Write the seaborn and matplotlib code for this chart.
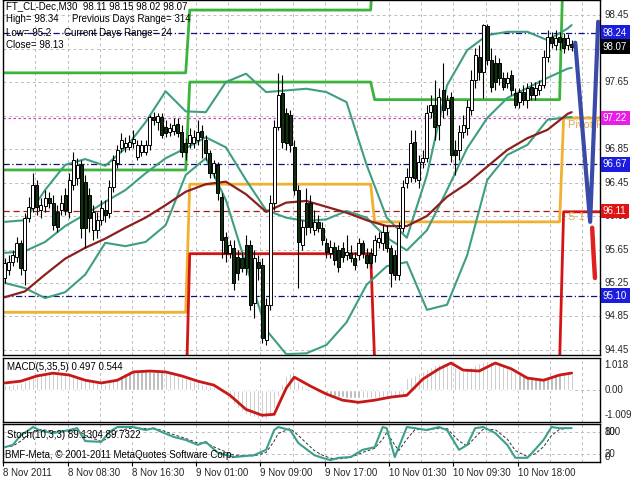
import numpy as np
import matplotlib
matplotlib.use("Agg")
import matplotlib.pyplot as plt
import seaborn as sns
from matplotlib.transforms import blended_transform_factory

# ---------------- data ----------------
# M30 candles, oldest first (prices)
c_open = [95.31, 95.41, 95.50, 95.56, 95.73, 95.41, 96.03, 96.15, 96.42, 96.12,
          96.17, 96.27, 96.21, 96.10, 96.12, 96.30, 96.10, 96.42, 96.50, 96.66,
          96.46, 96.30, 95.88, 95.88, 96.00, 96.12, 96.09, 96.40, 96.68, 96.86,
          96.87, 96.87, 96.92, 96.75, 96.81, 96.81, 96.90, 97.23, 97.17, 97.23,
          97.11, 97.05, 97.07, 97.15, 97.05, 96.92, 96.92, 96.92, 96.96, 97.07,
          96.96, 96.80, 96.56, 96.66, 96.28, 95.80, 95.61, 95.67, 95.56, 95.55,
          95.70, 95.70, 95.01, 95.50, 95.47, 94.57, 94.99, 96.21, 97.11, 97.52,
          97.28, 97.26, 96.87, 96.36, 95.70, 96.21, 96.21, 95.88, 95.98, 95.91,
          95.73, 95.61, 95.68, 95.64, 95.67, 95.58, 95.61, 95.55, 95.58, 95.73,
          95.58, 95.61, 95.58, 95.74, 95.73, 95.86, 95.67, 95.58, 95.35, 95.91,
          96.44, 96.52, 96.93, 96.48, 96.69, 96.74, 97.29, 97.38, 97.14, 97.55,
          97.34, 97.47, 96.84, 96.84, 97.05, 97.10, 97.32, 97.67, 97.95, 97.77,
          98.32, 97.91, 97.88, 97.88, 97.70, 97.64, 97.73, 97.52, 97.41, 97.53,
          97.44, 97.59, 97.49, 97.55, 97.61, 97.95, 98.19, 98.09, 98.19, 98.18,
          98.09, 98.11]
c_high = [95.55, 95.58, 95.64, 95.80, 95.76, 96.09, 96.28, 96.56, 96.48, 96.27,
          96.36, 96.34, 96.30, 96.18, 96.30, 96.38, 96.56, 96.81, 96.74, 96.72,
          96.54, 96.38, 96.18, 96.10, 96.24, 96.24, 96.48, 96.78, 96.90, 97.04,
          96.99, 97.02, 97.08, 96.96, 96.96, 96.96, 97.26, 97.29, 97.28, 97.28,
          97.20, 97.16, 97.22, 97.22, 97.14, 96.98, 97.10, 97.08, 97.20, 97.14,
          97.02, 96.84, 96.72, 96.69, 96.32, 95.86, 95.76, 95.76, 95.64, 95.62,
          95.82, 95.76, 95.64, 95.58, 95.55, 95.07, 96.30, 97.20, 97.76, 97.74,
          97.34, 97.32, 96.96, 96.42, 96.00, 96.38, 96.30, 96.12, 96.06, 95.98,
          95.79, 95.76, 95.74, 95.70, 95.74, 95.82, 95.70, 95.62, 95.79, 95.76,
          95.67, 95.67, 95.82, 95.86, 95.94, 95.94, 95.70, 95.64, 95.98, 96.48,
          96.62, 97.08, 97.08, 96.78, 96.84, 97.38, 97.49, 97.67, 97.58, 97.88,
          97.49, 97.53, 96.96, 97.14, 97.26, 97.44, 97.79, 98.06, 98.09, 98.34,
          98.34, 98.06, 97.97, 97.94, 97.77, 97.77, 97.79, 97.58, 97.58, 97.61,
          97.64, 97.65, 97.65, 97.67, 98.03, 98.27, 98.25, 98.27, 98.25, 98.24,
          98.22, 98.15]
c_low = [95.25, 95.35, 95.45, 95.50, 95.35, 95.23, 95.98, 96.10, 96.06, 96.03,
         96.10, 96.15, 95.88, 95.86, 96.06, 96.06, 96.03, 96.36, 96.42, 95.79,
         95.67, 95.86, 95.76, 95.79, 95.94, 95.98, 96.03, 96.34, 96.62, 96.81,
         96.81, 96.84, 96.86, 96.72, 96.77, 96.78, 96.84, 97.14, 97.08, 96.98,
         96.99, 97.01, 97.02, 96.99, 96.75, 96.72, 96.86, 96.86, 96.90, 96.74,
         96.72, 96.50, 96.50, 96.24, 95.55, 95.50, 95.55, 95.17, 95.29, 95.38,
         95.35, 94.93, 94.83, 95.29, 94.53, 94.51, 94.93, 96.12, 97.08, 96.86,
         96.84, 96.81, 96.30, 95.19, 95.64, 95.82, 95.85, 95.82, 95.86, 95.70,
         95.55, 95.55, 95.47, 95.38, 95.50, 95.52, 95.50, 95.41, 95.52, 95.55,
         95.43, 95.43, 95.50, 95.67, 95.64, 95.62, 95.20, 95.29, 95.29, 95.86,
         96.38, 96.46, 96.46, 96.38, 96.62, 96.69, 97.22, 96.96, 96.96, 97.22,
         97.26, 96.69, 96.54, 96.72, 96.98, 97.02, 97.26, 97.58, 97.67, 97.46,
         97.85, 97.53, 97.55, 97.61, 97.55, 97.58, 97.49, 97.34, 97.34, 97.38,
         97.34, 97.44, 97.44, 97.49, 97.58, 97.89, 98.06, 98.03, 98.03, 98.00,
         98.03, 98.02]
c_close = [95.49, 95.50, 95.58, 95.73, 95.43, 96.03, 96.16, 96.42, 96.16, 96.18,
           96.27, 96.21, 95.94, 95.92, 96.21, 96.12, 96.48, 96.72, 96.66, 95.91,
           95.91, 96.03, 96.10, 96.00, 96.15, 96.06, 96.40, 96.72, 96.84, 96.96,
           96.92, 96.93, 96.97, 96.90, 96.90, 96.90, 97.23, 97.20, 97.24, 97.02,
           97.04, 97.10, 97.14, 97.04, 96.81, 96.81, 97.02, 96.99, 97.05, 96.99,
           96.80, 96.56, 96.68, 96.32, 95.76, 95.61, 95.70, 95.25, 95.37, 95.43,
           95.43, 94.99, 95.55, 95.43, 94.59, 94.99, 96.21, 97.11, 97.49, 96.93,
           96.92, 96.90, 96.36, 95.74, 95.92, 95.92, 95.92, 95.98, 95.91, 95.76,
           95.62, 95.68, 95.52, 95.44, 95.56, 95.62, 95.55, 95.47, 95.73, 95.61,
           95.49, 95.49, 95.76, 95.79, 95.86, 95.67, 95.37, 95.35, 95.91, 96.40,
           96.52, 96.92, 96.50, 96.69, 96.74, 97.28, 97.38, 97.11, 97.47, 97.32,
           97.44, 96.78, 96.78, 97.05, 97.14, 97.35, 97.67, 97.97, 97.77, 98.33,
           97.91, 97.59, 97.65, 97.70, 97.59, 97.70, 97.55, 97.38, 97.53, 97.44,
           97.58, 97.49, 97.58, 97.61, 97.95, 98.19, 98.12, 98.18, 98.13, 98.06,
           98.18, 98.07]

# Bollinger bands and moving average, read every 5 bars
line_idx = [0, 5, 10, 15, 20, 25, 30, 35, 40, 45, 50, 55, 60, 65, 70,
            75, 80, 85, 90, 95, 100, 105, 110, 115, 120, 125, 130, 135, 140, 141]
bb_upper = [95.98, 96.00, 96.36, 96.66, 96.73, 96.65, 96.86, 97.17, 97.54, 97.30,
            97.29, 97.65, 97.75, 97.53, 97.55, 97.57, 97.53, 97.41, 96.66, 96.03,
            95.79, 96.54, 97.61, 98.03, 98.21, 98.25, 98.25, 98.15, 98.29, 98.33]
bb_mid = [95.61, 95.63, 95.74, 95.93, 96.07, 96.22, 96.36, 96.56, 96.74, 96.86,
          96.99, 96.87, 96.48, 96.12, 96.03, 95.99, 96.01, 96.11, 96.03, 95.79,
          95.64, 95.88, 96.36, 96.86, 97.22, 97.46, 97.58, 97.70, 97.81, 97.82]
bb_lower = [95.25, 95.19, 95.07, 95.14, 95.35, 95.73, 95.69, 95.74, 95.94, 96.54,
            96.74, 96.24, 95.47, 94.69, 94.40, 94.41, 94.51, 94.78, 95.23, 95.45,
            95.50, 94.93, 94.99, 95.58, 96.48, 96.78, 96.90, 97.20, 97.23, 97.23]
ma_line = [95.08, 95.15, 95.35, 95.54, 95.67, 95.78, 95.91, 96.03, 96.18, 96.34,
           96.43, 96.46, 96.31, 96.10, 96.21, 96.23, 96.16, 96.09, 96.00, 95.93,
           95.93, 96.05, 96.28, 96.44, 96.64, 96.84, 96.98, 97.08, 97.27, 97.29]

# daily pivot levels (8, 9, 10, 11 Nov) and bars per day
day_bars = [46, 46, 47, 10]
piv_r2 = [97.76, 98.51, 99.30, 100.36]
piv_r1 = [96.60, 97.65, 97.44, 99.24]
piv_pp = [94.90, 96.43, 95.98, 97.22]
piv_s1 = [93.74, 95.60, 94.30, 96.10]

# forecast strokes at the right edge
fc_blue_x = [141.9, 145.6, 147.6]
fc_blue_y = [98.12, 95.98, 98.37]
fc_red_x = [146.1, 146.5, 146.8]
fc_red_y = [95.91, 95.55, 95.31]

# MACD(5,35,5): histogram per bar, signal sampled
macd_hist = [0.15, 0.17, 0.18, 0.20, 0.22, 0.28, 0.35, 0.42,
             0.50, 0.55, 0.58, 0.60, 0.58, 0.57, 0.55, 0.52,
             0.50, 0.48, 0.45, 0.42, 0.38, 0.35, 0.30,
             0.27, 0.22, 0.20, 0.25,
             0.32, 0.40, 0.48, 0.55,
             0.58, 0.60, 0.62, 0.62, 0.60, 0.60, 0.58, 0.60, 0.60, 0.58, 0.55, 0.52, 0.48,
             0.42, 0.38, 0.32, 0.28, 0.25,
             0.20, 0.16, 0.12, 0.08,
             0.02, -0.05,
             -0.15, -0.30, -0.45, -0.60,
             -0.70, -0.78, -0.85, -0.90, -0.95, -0.92, -0.95, -0.90,
             -0.60, -0.20,
             0.20, 0.45, 0.55,
             0.45, 0.30, 0.15,
             0.05, 0.00, -0.05, -0.10,
             -0.12, -0.15, -0.18, -0.20, -0.22, -0.25, -0.27, -0.28, -0.28, -0.28,
             -0.27, -0.28, -0.28, -0.27, -0.26, -0.27, -0.28, -0.27, -0.26, -0.24, -0.20,
             0.38, 0.42, 0.48, 0.55, 0.62, 0.68, 0.74, 0.80, 0.85, 0.88, 0.90,
             0.85, 0.75, 0.65,
             0.62, 0.68, 0.75, 0.82,
             0.87, 0.90, 0.93, 0.92, 0.88,
             0.82, 0.76, 0.70, 0.64, 0.58, 0.52, 0.48, 0.44,
             0.40, 0.38, 0.36, 0.35, 0.38, 0.42,
             0.48, 0.52, 0.55, 0.53, 0.497]
macd_idx = [0, 4, 8, 12, 16, 20, 24, 28, 32, 36, 40, 44, 48, 52, 56, 60, 64, 67, 70,
            72, 76, 80, 84, 88, 92, 96, 100, 104, 108, 111, 114, 118, 122, 126, 130,
            134, 138, 141]
macd_signal = [0.22, 0.28, 0.45, 0.54, 0.48, 0.31, 0.22, 0.31, 0.58, 0.61,
               0.58, 0.45, 0.28, 0.15, -0.18, -0.64, -0.83, -0.80, 0.05, 0.41,
               0.12, -0.14, -0.34, -0.41, -0.34, -0.24, -0.18, 0.35, 0.68, 0.87,
               0.64, 0.61, 0.87, 0.68, 0.38, 0.31, 0.48, 0.544]

# Stochastic(10,3,3)
st_idx = [0, 2, 4, 6, 7, 9, 12, 16, 18, 20, 24, 26, 28, 32, 35, 37, 39, 42, 45, 48,
          50, 53, 57, 62, 65, 67, 68, 71, 73, 77, 79, 81, 83, 86, 89, 92, 94, 95, 97, 98,
          100, 102, 105, 108, 110, 113, 115, 117, 119, 122, 125, 127, 130, 132, 134,
          136, 138, 141]
st_main = [39, 45, 71, 84, 92, 82, 76, 84, 89, 55, 53, 79, 92, 92, 84, 89, 79, 66, 58, 45,
           53, 24, 13, 18, 32, 84, 92, 84, 50, 18, 11, 5, 11, 13, 32, 39, 92, 89, 13, 39,
           92, 89, 84, 92, 84, 32, 45, 89, 92, 76, 45, 11, 11, 34, 58, 92, 89, 89.13]
st_signal = [40, 42, 55, 72, 80, 86, 80, 80, 85, 70, 54, 65, 82, 90, 88, 87, 84, 72, 62, 50,
             50, 35, 18, 16, 25, 55, 75, 88, 70, 30, 18, 10, 8, 12, 25, 36, 60, 78, 45, 30,
             60, 85, 86, 88, 88, 55, 42, 65, 86, 85, 60, 30, 14, 22, 40, 70, 86, 89.73]

grid_prices = [98.45, 98.05, 97.65, 97.25, 96.85, 96.45, 96.05, 95.65, 95.25, 94.85, 94.45]
price_labels = [98.45, 97.65, 96.85, 96.45, 96.05, 95.65, 95.25, 94.85, 94.45]
level_boxes = [(98.24, '#1c1ce0'), (98.07, '#000000'), (97.22, '#e81ee8'),
               (96.67, '#1c1ce0'), (96.11, '#e01414'), (95.10, '#1c1ce0')]
time_labels = ['8 Nov 2011', '8 Nov 08:30', '8 Nov 16:30', '9 Nov 01:00', '9 Nov 09:00',
               '9 Nov 17:00', '10 Nov 01:30', '10 Nov 09:30', '10 Nov 18:00']

# ---------------- drawing ----------------
sns.set_theme(style="white")
plt.rcParams['font.family'] = ['Liberation Sans', 'DejaVu Sans']

W, H = 640, 480
fig = plt.figure(figsize=(6.4, 4.8), dpi=100)
fig.patch.set_facecolor('white')


def px_rect(x0, y0, x1, y1):
    return [x0 / W, 1 - y1 / H, (x1 - x0) / W, (y1 - y0) / H]


def ptext(x, y, s, **kw):
    kw.setdefault('fontsize', 7)
    kw.setdefault('color', 'black')
    fig.text(x / W, 1 - y / H, s, va='center', ha='left', **kw)


ax = fig.add_axes(px_rect(3, 0, 600, 355))
ax_m = fig.add_axes(px_rect(3, 357.5, 600, 422))
ax_s = fig.add_axes(px_rect(3, 424, 600, 462))

XLIM = (-0.45, 148.05)
GRID = '#bdbdbd'
grid_x = np.arange(8, 148, 8) - 0.4

for a in (ax, ax_m, ax_s):
    a.set_xlim(*XLIM)
    a.set_facecolor('white')
    for sp in a.spines.values():
        sp.set_color('black')
        sp.set_linewidth(1.0)
    for gx in grid_x:
        a.axvline(gx, color=GRID, lw=0.7, ls=(0, (3, 3)), zorder=0)

# --- main price window ---
ax.set_ylim(94.39, 98.63)
for p in grid_prices:
    ax.axhline(p, color=GRID, lw=0.7, ls=(0, (3, 3)), zorder=0)

for lvl in (98.24, 96.67, 95.10):
    ax.axhline(lvl, color='#10107a', lw=0.9, ls=(0, (5, 2, 1, 2)), zorder=1)
ax.axhline(97.22, color='#cc44cc', lw=0.9, ls=(0, (2, 2)), zorder=1)
ax.axhline(96.11, color='#a01c1c', lw=0.9, ls=(0, (5, 3)), zorder=1)

piv_x = np.arange(sum(day_bars))
for lv, col in ((piv_r2, '#3cb43c'), (piv_r1, '#3cb43c'),
                (piv_pp, '#f0b030'), (piv_s1, '#d41414')):
    sns.lineplot(x=piv_x, y=np.repeat(lv, day_bars), ax=ax, color=col,
                 linewidth=2.0, zorder=2)

BB = '#3f9e80'
for band in (bb_upper, bb_mid, bb_lower):
    sns.lineplot(x=line_idx, y=band, ax=ax, color=BB, linewidth=1.5, zorder=3)
sns.lineplot(x=line_idx, y=ma_line, ax=ax, color='#8c1f1f', linewidth=1.6, zorder=3)

o = np.array(c_open)
c = np.array(c_close)
idx = np.arange(len(o))
up = c >= o
lo = np.minimum(o, c)
ht = np.maximum(np.abs(c - o), 0.012)
ax.vlines(idx, c_low, c_high, color='black', lw=0.8, zorder=5)
ax.bar(idx[up], ht[up], bottom=lo[up], width=0.75, color='white',
       edgecolor='black', linewidth=0.7, zorder=6)
ax.bar(idx[~up], ht[~up], bottom=lo[~up], width=0.75, color='#10300f',
       edgecolor='black', linewidth=0.7, zorder=6)

sns.lineplot(x=fc_blue_x, y=fc_blue_y, ax=ax, color='#3a4aa8', linewidth=3.0,
             sort=False, zorder=7)
sns.lineplot(x=fc_red_x, y=fc_red_y, ax=ax, color='#e02020', linewidth=3.2,
             sort=False, zorder=7)

ax.text(140.1, 97.14, 'Pivot Point', color='#e0a850', fontsize=8, va='center',
        ha='left', clip_on=True, zorder=4)
ax.text(140.1, 96.04, 'S 1', color='#e0a850', fontsize=8, va='center',
        ha='left', clip_on=True, zorder=4)

tr = blended_transform_factory(ax.transAxes, ax.transData)
for p in price_labels:
    ax.text(1.008, p, f'{p:.2f}', transform=tr, fontsize=7, va='center',
            ha='left', clip_on=False)
for p, col in level_boxes:
    ax.text(1.005, p, f'{p:.2f}', transform=tr, fontsize=7, color='white',
            va='center', ha='left', clip_on=False, zorder=10,
            bbox=dict(boxstyle='square,pad=0.25', fc=col, ec='none'))

# --- MACD window ---
ax_m.set_ylim(-1.05, 1.05)
ax_m.axhline(0, color=GRID, lw=0.7, ls=(0, (3, 3)), zorder=0)
ax_m.bar(idx, macd_hist, width=0.55, color='#b0b0b0', zorder=2)
sns.lineplot(x=macd_idx, y=macd_signal, ax=ax_m, color='#c81818',
             linewidth=2.0, zorder=3)
trm = blended_transform_factory(ax_m.transAxes, ax_m.transData)
for v, s in ((0.81, '1.018'), (0.0, '0.00'), (-0.81, '-1.009')):
    ax_m.text(1.008, v, s, transform=trm, fontsize=7, va='center', ha='left',
              clip_on=False)

# --- Stochastic window ---
ax_s.set_ylim(0, 100)
for lvl in (80, 20):
    ax_s.axhline(lvl, color=GRID, lw=0.7, ls=(0, (3, 3)), zorder=0)
sns.lineplot(x=st_idx, y=st_signal, ax=ax_s, color='#303030', linewidth=0.7,
             linestyle=(0, (3, 2)), zorder=2)
sns.lineplot(x=st_idx, y=st_main, ax=ax_s, color='#3aa08c', linewidth=1.5, zorder=3)
trs = blended_transform_factory(ax_s.transAxes, ax_s.transData)
for v, s in ((79, '100'), (79, '80'), (20, '20'), (12, '0')):
    ax_s.text(1.008, v, s, transform=trs, fontsize=7, va='center', ha='left',
              clip_on=False)

for a in (ax, ax_m, ax_s):
    a.set_xlabel('')
    a.set_ylabel('')
    a.set_yticks([])
ax.set_xticks([])
ax_m.set_xticks([])
ax_s.set_xticks(np.arange(0, 129, 16) - 0.4)
ax_s.set_xticklabels(time_labels, ha='left', fontsize=7)
ax_s.tick_params(axis='x', bottom=True, length=3, width=0.8, color='black', pad=1)

# --- text overlays ---
ptext(6, 6, 'FT_CL-Dec,M30  98.11 98.15 98.02 98.07')
ptext(6, 19, 'High= 98.34')
ptext(72, 19, 'Previous Days Range= 314')
ptext(6, 33, 'Low= 95.2')
ptext(64, 33, 'Current Days Range= 24')
ptext(6, 45, 'Close= 98.13')
ptext(7, 367, 'MACD(5,35,5) 0.497 0.544')
ptext(7, 435, 'Stoch(10,3,3) 89.1304 89.7322')
ptext(5, 455, 'BMF-Meta, \u00a9 2001-2011 MetaQuotes Software Corp.')

fig.savefig('out.png', dpi=100)
